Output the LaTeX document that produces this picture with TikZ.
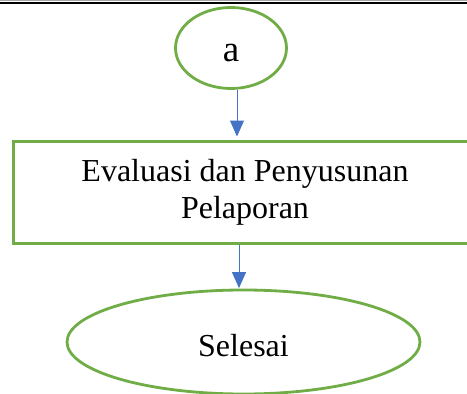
\documentclass[tikz,border=0pt]{standalone}
\usepackage{fontspec}
\setmainfont{Liberation Serif}
\usetikzlibrary{arrows.meta,shapes.geometric}
\definecolor{leaf}{HTML}{70AD47}
\definecolor{flowblue}{HTML}{4472C4}
\tikzset{
  term/.style={ellipse, draw=leaf, line width=2.8pt, inner sep=0pt},
  stepbox/.style={rectangle, draw=leaf, line width=3pt, align=center, inner sep=0pt},
  flow/.style={draw=flowblue, line width=1pt, -{Triangle[width=14pt,length=16pt]}, flowblue}
}
\begin{document}
\begin{tikzpicture}[x=1pt,y=-1pt]
  \useasboundingbox (0,0) rectangle (467,394);
  % rule along the top edge
  \draw[gray!70, line width=1pt] (0,0.8) -- (467,0.8);
  \draw[black, line width=2pt] (0,2.8) -- (467,2.8);

  \node[term, minimum width=111pt, minimum height=81pt, text height=27pt, text depth=0pt,
        font=\fontsize{37}{40}\selectfont] (a) at (231,48) {a};
  \node[stepbox, minimum width=464pt, minimum height=102pt,
        font=\fontsize{32}{37}\selectfont] (box) at (245,192)
        {\raisebox{-3pt}{Evaluasi dan Penyusunan}\\\raisebox{-3pt}{Pelaporan}};
  \node[term, minimum width=353pt, minimum height=104pt, text height=28pt, text depth=0pt,
        font=\fontsize{32}{37}\selectfont] (end) at (243.5,342) {Selesai};

  \draw[flow, shorten >=3pt] ([xshift=6pt]a.south) -- ([xshift=-8pt]box.north);
  \draw[flow, shorten >=0.5pt] ([xshift=-6pt]box.south) -- ([xshift=-4.5pt]end.north);
\end{tikzpicture}
\end{document}
